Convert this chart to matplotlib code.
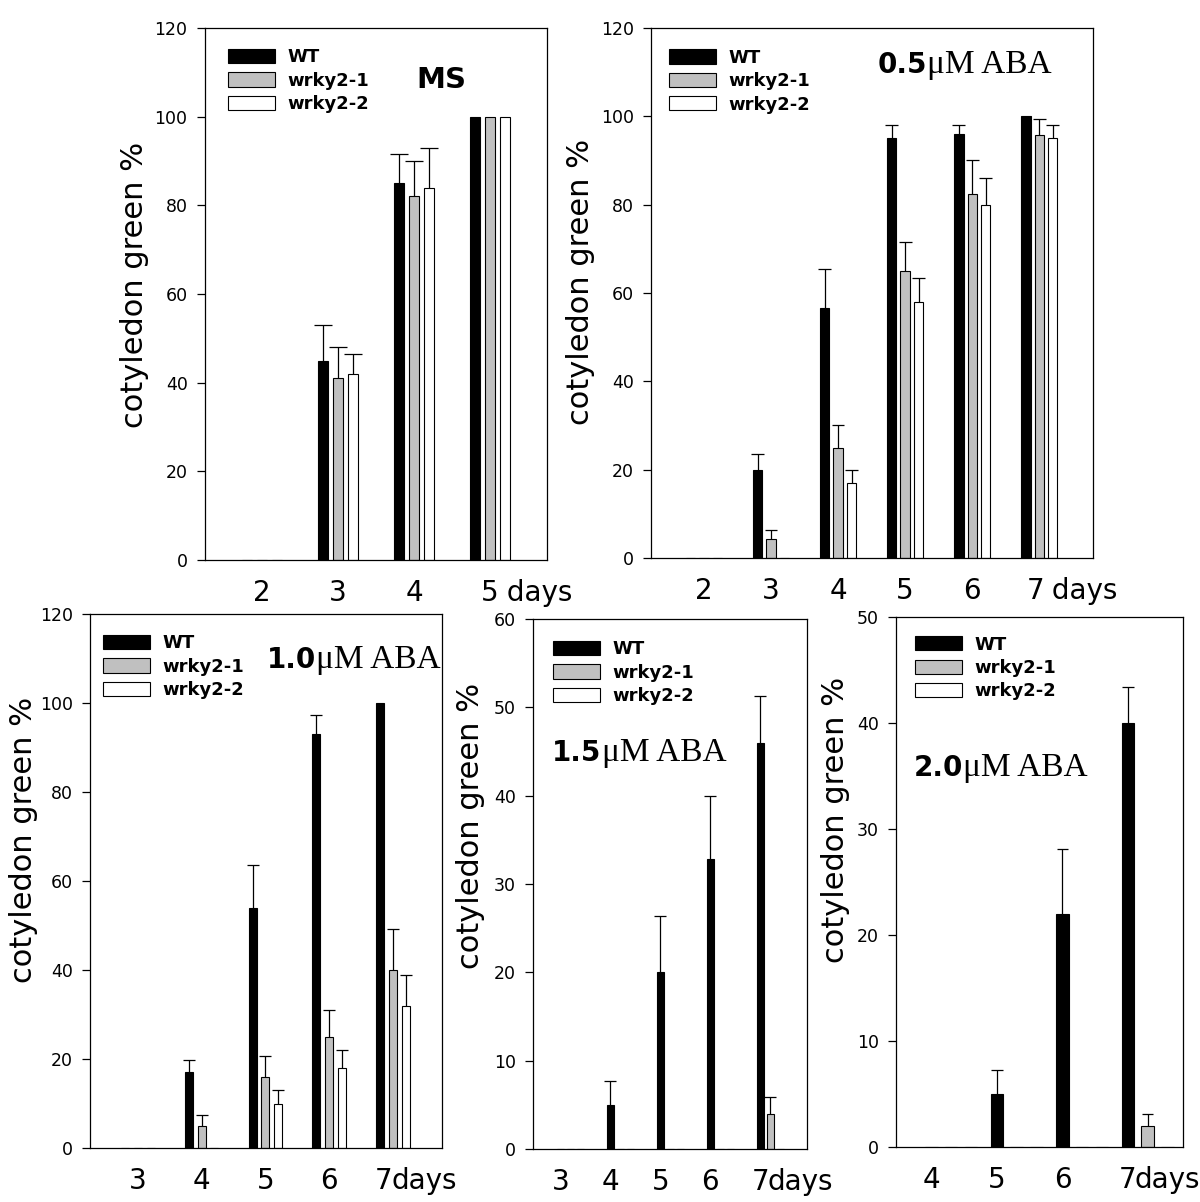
import numpy as np
import matplotlib
matplotlib.use("Agg")
import matplotlib.pyplot as plt
from matplotlib.offsetbox import TextArea, HPacker, AnchoredOffsetbox

series_names = ["WT", "wrky2-1", "wrky2-2"]
bar_colors = ["black", "#c0c0c0", "white"]

# MS
ms_days = [2, 3, 4, 5]
ms_wt = [0, 45, 85, 100]
ms_wt_err = [0, 8, 6.5, 0]
ms_w1 = [0, 41, 82, 100]
ms_w1_err = [0, 7, 8, 0]
ms_w2 = [0, 42, 84, 100]
ms_w2_err = [0, 4.5, 9, 0]

# 0.5 uM ABA
aba05_days = [2, 3, 4, 5, 6, 7]
aba05_wt = [0, 20, 56.5, 95, 96, 100]
aba05_wt_err = [0, 3.6, 9, 3, 2, 0]
aba05_w1 = [0, 4.3, 25, 65, 82.5, 95.8]
aba05_w1_err = [0, 2.1, 5, 6.5, 7.5, 3.5]
aba05_w2 = [0, 0, 17, 58, 80, 95]
aba05_w2_err = [0, 0, 3, 5.5, 6, 3]

# 1.0 uM ABA
aba10_days = [3, 4, 5, 6, 7]
aba10_wt = [0, 17, 54, 93, 100]
aba10_wt_err = [0, 2.7, 9.7, 4.3, 0]
aba10_w1 = [0, 5, 16, 25, 40]
aba10_w1_err = [0, 2.5, 4.6, 6, 9.3]
aba10_w2 = [0, 0, 10, 18, 32]
aba10_w2_err = [0, 0, 3, 4, 6.8]

# 1.5 uM ABA
aba15_days = [3, 4, 5, 6, 7]
aba15_wt = [0, 5, 20, 32.8, 46]
aba15_wt_err = [0, 2.7, 6.4, 7.2, 5.3]
aba15_w1 = [0, 0, 0, 0, 4]
aba15_w1_err = [0, 0, 0, 0, 1.9]
aba15_w2 = [0, 0, 0, 0, 0]
aba15_w2_err = [0, 0, 0, 0, 0]

# 2.0 uM ABA
aba20_days = [4, 5, 6, 7]
aba20_wt = [0, 5, 22, 40]
aba20_wt_err = [0, 2.3, 6.1, 3.4]
aba20_w1 = [0, 0, 0, 2]
aba20_w1_err = [0, 0, 0, 1.1]
aba20_w2 = [0, 0, 0, 0]
aba20_w2_err = [0, 0, 0, 0]

ylabel = "cotyledon green %"

panels = [
    dict(days=ms_days, vals=[ms_wt, ms_w1, ms_w2], errs=[ms_wt_err, ms_w1_err, ms_w2_err],
         rect=[0.1708, 0.5341, 0.285, 0.4426], xlim=(1.25, 5.75), ymax=120, ystep=20,
         width=0.13, offset=0.2, cap=0.24, tick_shift=0.0, last_shift=0.0, days_txt=" days", days_off=4,
         conc=None, title_pos=(0.69, 0.902), leg_pos=(0.067, 0.962), ylab_pos=(-0.205, 0.517)),
    dict(days=aba05_days, vals=[aba05_wt, aba05_w1, aba05_w2], errs=[aba05_wt_err, aba05_w1_err, aba05_w2_err],
         rect=[0.5425, 0.5358, 0.3683, 0.4409], xlim=(1.21, 7.8), ymax=120, ystep=20,
         width=0.14, offset=0.2, cap=0.19, tick_shift=0.0, last_shift=-0.05, days_txt=" days", days_off=3,
         conc="0.5", title_pos=(0.513, 0.93), leg_pos=(0.04, 0.961), ylab_pos=(-0.16, 0.52)),
    dict(days=aba10_days, vals=[aba10_wt, aba10_w1, aba10_w2], errs=[aba10_wt_err, aba10_w1_err, aba10_w2_err],
         rect=[0.075, 0.0449, 0.2933, 0.4443], xlim=(2.25, 7.77), ymax=120, ystep=20,
         width=0.125, offset=0.2, cap=0.19, tick_shift=0.0, last_shift=-0.15, days_txt="days", days_off=4,
         conc="1.0", title_pos=(0.503, 0.914), leg_pos=(0.037, 0.962), ylab_pos=(-0.19, 0.577)),
    dict(days=aba15_days, vals=[aba15_wt, aba15_w1, aba15_w2], errs=[aba15_wt_err, aba15_w1_err, aba15_w2_err],
         rect=[0.4442, 0.0441, 0.2283, 0.4409], xlim=(2.25, 7.74), ymax=60, ystep=10,
         width=0.14, offset=0.2, cap=0.24, tick_shift=-0.2, last_shift=0.0, days_txt="days", days_off=3,
         conc="1.5", title_pos=(0.07, 0.747), leg_pos=(0.073, 0.96), ylab_pos=(-0.23, 0.61)),
    dict(days=aba20_days, vals=[aba20_wt, aba20_w1, aba20_w2], errs=[aba20_wt_err, aba20_w1_err, aba20_w2_err],
         rect=[0.7467, 0.0458, 0.2392, 0.4409], xlim=(3.16, 7.54), ymax=50, ystep=10,
         width=0.19, offset=0.3, cap=0.17, tick_shift=-0.3, last_shift=0.0, days_txt="days", days_off=3,
         conc="2.0", title_pos=(0.06, 0.716), leg_pos=(0.066, 0.965), ylab_pos=(-0.21, 0.617)),
]


def draw_panel(fig, p):
    ax = fig.add_axes(p["rect"])
    days = np.array(p["days"], dtype=float)
    handles = []
    for i in range(3):
        x = days + (i - 1) * p["offset"]
        v = np.array(p["vals"][i], dtype=float)
        e = np.array(p["errs"][i], dtype=float)
        h = ax.bar(x, v, p["width"], color=bar_colors[i], edgecolor="black", linewidth=0.8, zorder=2)
        handles.append(h)
        # upper error bars only
        m = e > 0
        ax.vlines(x[m], v[m], v[m] + e[m], color="black", linewidth=0.9, zorder=3)
        ax.hlines(v[m] + e[m], x[m] - p["cap"] / 2, x[m] + p["cap"] / 2, color="black", linewidth=0.9, zorder=3)

    ax.set_xlim(*p["xlim"])
    ax.set_ylim(0, p["ymax"])
    ax.set_yticks(np.arange(0, p["ymax"] + 1, p["ystep"]))
    ticks = days + p["tick_shift"]
    ticks[-1] += p["last_shift"]
    ax.set_xticks(ticks)
    ax.set_xticklabels([str(int(d)) for d in days])
    ax.tick_params(axis="x", length=0, labelsize=20, pad=14)
    ax.tick_params(axis="y", direction="out", length=5.5, width=0.9, labelsize=12.5, pad=7)
    for s in ax.spines.values():
        s.set_linewidth(0.9)

    ax.annotate(p["days_txt"], xy=(ticks[-1], 0), xycoords=("data", "axes fraction"),
                xytext=(p["days_off"] + 2, -14), textcoords="offset points",
                ha="left", va="top", fontsize=20)

    ax.set_ylabel(ylabel, fontsize=22, va="center")
    ax.yaxis.set_label_coords(*p["ylab_pos"])

    ax.legend(handles, series_names, loc="upper left", bbox_to_anchor=p["leg_pos"],
              frameon=False, prop=dict(weight="bold", size=13), handlelength=2.6,
              handleheight=0.85, borderpad=0, borderaxespad=0, handletextpad=0.7,
              labelspacing=0.3)

    if p["conc"] is None:
        ax.text(p["title_pos"][0], p["title_pos"][1], "MS", transform=ax.transAxes,
                ha="center", va="center", fontsize=21, fontweight="bold")
    else:
        pack = HPacker(children=[
            TextArea(p["conc"], textprops=dict(fontweight="bold", fontsize=20)),
            TextArea("\u03bcM ABA", textprops=dict(family="Liberation Serif", fontsize=24)),
        ], align="baseline", pad=0, sep=0)
        box = AnchoredOffsetbox(loc="center left", child=pack, pad=0, borderpad=0, frameon=False,
                                bbox_to_anchor=p["title_pos"], bbox_transform=ax.transAxes)
        ax.add_artist(box)
    return ax


fig = plt.figure(figsize=(12, 12.02), dpi=100)
for p in panels:
    draw_panel(fig, p)

fig.savefig("out.png", dpi=100)
